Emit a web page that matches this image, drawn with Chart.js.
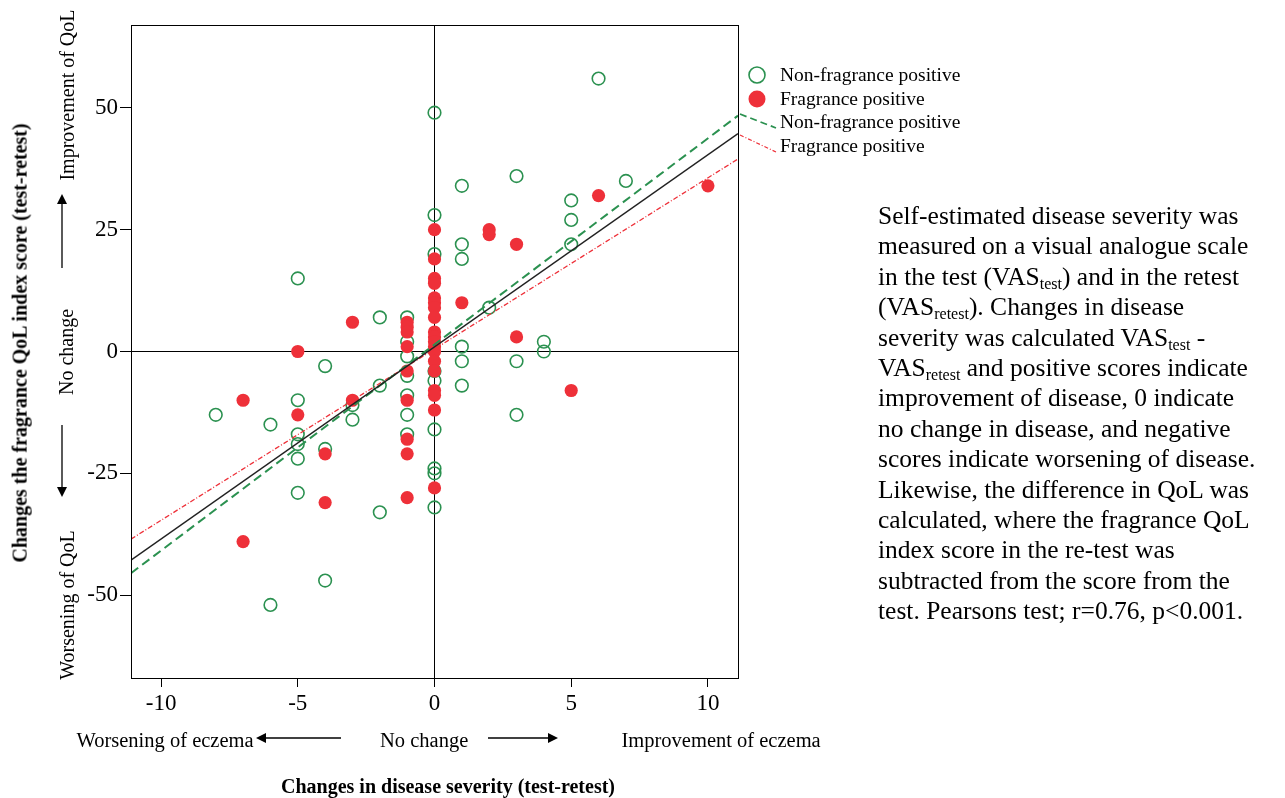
<!DOCTYPE html>
<html>
<head>
<meta charset="utf-8">
<script src="https://cdn.jsdelivr.net/npm/chart.js@4.4.1/dist/chart.umd.min.js"></script>
<style>
  html, body { margin: 0; padding: 0; background: #fff; }
  body { width: 1285px; height: 798px; position: relative; overflow: hidden;
         font-family: 'Liberation Serif', 'DejaVu Serif', serif; color: #000; }
  #chart { position: absolute; left: 0; top: 0; }
  .lbl { position: absolute; white-space: nowrap; line-height: 1; }
  .rot { transform-origin: center center; }
  .bold { font-weight: bold; }
  #note { position: absolute; left: 878px; top: 201px; font-size: 25.5px; line-height: 30.4px; white-space: nowrap; }
  #note sub { font-size: 16px; vertical-align: -4px; line-height: 0; }
</style>
</head>
<body>
<canvas id="chart" width="1000" height="798"></canvas>

<!-- y axis title and direction annotations -->
<div class="lbl rot bold" id="yTitle" style="font-size:20px;">Changes the fragrance QoL index score (test-retest)</div>
<div class="lbl rot" id="yUp" style="font-size:20px;">Improvement of QoL</div>
<div class="lbl rot" id="yMid" style="font-size:20px;">No change</div>
<div class="lbl rot" id="yDown" style="font-size:20px;">Worsening of QoL</div>

<!-- x axis annotations and title -->
<div class="lbl" id="xLeft" style="font-size:20.5px;">Worsening of eczema</div>
<div class="lbl" id="xMid" style="font-size:20.5px;">No change</div>
<div class="lbl" id="xRight" style="font-size:20.5px;">Improvement of eczema</div>
<div class="lbl bold" id="xTitle" style="font-size:20px;">Changes in disease severity (test-retest)</div>

<div id="note">Self-estimated disease severity was<br>measured on a visual analogue scale<br>in the test (VAS<sub>test</sub>) and in the retest<br>(VAS<sub>retest</sub>). Changes in disease<br>severity was calculated VAS<sub>test</sub> -<br>VAS<sub>retest</sub> and positive scores indicate<br>improvement of disease, 0 indicate<br>no change in disease, and negative<br>scores indicate worsening of disease.<br>Likewise, the difference in QoL was<br>calculated, where the fragrance QoL<br>index score in the re-test was<br>subtracted from the score from the<br>test. Pearsons test; r=0.76, p&lt;0.001.</div>

<script>
// Change in disease severity (x) and change in QoL index score (y), per patient group
const nonFragranceX = [-8, -6, -6, -5, -5, -5, -5, -5, -5, -4, -4, -4, -3, -3, -2, -2, -2,
  -1, -1, -1, -1, -1, -1, -1, 0, 0, 0, 0, 0, 0, 0, 0, 0,
  1, 1, 1, 1, 1, 1, 2, 3, 3, 3, 4, 4, 5, 5, 5, 6, 7];
const nonFragranceY = [-13, -15, -52, 15, -10, -17, -19, -22, -29, -3, -20, -47, -11, -14, 7, -7, -33,
  7, 2, -1, -5, -9, -13, -17, 49, 28, 20, -4, -6, -16, -24, -25, -32,
  34, 22, 19, 1, -2, -7, 9, 36, -2, -13, 2, 0, 31, 27, 22, 56, 35];

const fragranceX = [-7, -7, -5, -5, -4, -4, -3, -3,
  -1, -1, -1, -1, -1, -1, -1, -1, -1,
  0, 0, 0, 0, 0, 0, 0, 0, 0, 0, 0, 0, 0, 0, 0, 0, 0, 0, 0,
  1, 2, 2, 3, 3, 5, 6, 10];
const fragranceY = [-10, -39, 0, -13, -21, -31, 6, -10,
  6, 5, 4, 1, -4, -10, -18, -21, -30,
  25, 19, 15, 14, 11, 10, 9, 7, 4, 3, 2, 1, 0, -2, -4, -8, -9, -12, -28,
  10, 25, 24, 22, 3, -8, 32, 34];

// Fitted regression lines, given by their end points at the plot edges
const fitX = [-11.1, 11.1];
const fitAllY = [-42.8, 44.7];
const fitNonFragranceY = [-45.5, 48.4];
const fitFragranceY = [-38.5, 39.5];

// Axis ticks
const xTicks = [-10, -5, 0, 5, 10];
const yTicks = [-50, -25, 0, 25, 50];

// Legend entries
const legendLabels = ['Non-fragrance positive', 'Fragrance positive', 'Non-fragrance positive', 'Fragrance positive'];

const GREEN = '#2b9150';
const RED = '#ee3039';
const SERIF = "'Liberation Serif', 'DejaVu Serif', serif";

const pts = (xs, ys) => xs.map((x, i) => ({ x, y: ys[i] }));

// Frame around the plot, plus the legend to the right of it
const framePlugin = {
  id: 'frameAndLegend',
  afterDraw(chart) {
    const { ctx, chartArea: a } = chart;
    ctx.save();
    ctx.strokeStyle = '#000';
    ctx.lineWidth = 1;
    ctx.strokeRect(a.left + 0.5, a.top + 0.5, a.right - a.left, a.bottom - a.top);

    ctx.font = '19.5px ' + SERIF;
    ctx.textBaseline = 'middle';
    ctx.textAlign = 'left';
    const tx = 780;
    const rows = [75, 99, 122, 146];

    // symbol entries
    ctx.beginPath();
    ctx.arc(757, rows[0], 8, 0, Math.PI * 2);
    ctx.strokeStyle = GREEN; ctx.lineWidth = 1.6; ctx.stroke();
    ctx.beginPath();
    ctx.arc(757, rows[1], 8.5, 0, Math.PI * 2);
    ctx.fillStyle = RED; ctx.fill();

    // line entries, drawn as short leaders from the plot edge
    ctx.beginPath();
    ctx.setLineDash([7, 4]);
    ctx.strokeStyle = GREEN; ctx.lineWidth = 1.8;
    ctx.moveTo(a.right + 2, 114); ctx.lineTo(776, 128); ctx.stroke();
    ctx.beginPath();
    ctx.setLineDash([4, 2, 1, 2]);
    ctx.strokeStyle = RED; ctx.lineWidth = 1.2;
    ctx.moveTo(a.right + 2, 135); ctx.lineTo(776, 152); ctx.stroke();
    ctx.setLineDash([]);

    ctx.fillStyle = '#000';
    legendLabels.forEach((t, i) => ctx.fillText(t, tx, rows[i] + 1));
    ctx.restore();
  }
};

const zeroGrid = c => (c.tick && c.tick.value === 0) ? '#000' : 'rgba(0,0,0,0)';

new Chart(document.getElementById('chart'), {
  type: 'scatter',
  data: {
    datasets: [
      { label: 'Non-fragrance positive', data: pts(nonFragranceX, nonFragranceY),
        pointRadius: 6.3, pointBorderWidth: 1.6, borderColor: GREEN,
        backgroundColor: 'rgba(0,0,0,0)', pointBackgroundColor: 'rgba(0,0,0,0)', order: 3 },
      { label: 'Fragrance positive', data: pts(fragranceX, fragranceY),
        pointRadius: 6.6, pointBorderWidth: 0, borderColor: RED,
        backgroundColor: RED, pointBackgroundColor: RED, order: 2 },
      { type: 'line', label: 'Total', data: pts(fitX, fitAllY), showLine: true,
        borderColor: '#222', borderWidth: 1.4, pointRadius: 0, fill: false, order: 1 },
      { type: 'line', label: 'Non-fragrance positive fit', data: pts(fitX, fitNonFragranceY), showLine: true,
        borderColor: GREEN, borderWidth: 2, borderDash: [9, 5], pointRadius: 0, fill: false, order: 1 },
      { type: 'line', label: 'Fragrance positive fit', data: pts(fitX, fitFragranceY), showLine: true,
        borderColor: RED, borderWidth: 1.3, borderDash: [5, 2, 1, 2], pointRadius: 0, fill: false, order: 1 }
    ]
  },
  options: {
    responsive: false,
    animation: false,
    devicePixelRatio: 1,
    layout: { padding: { top: 25, right: 262, left: 0, bottom: 0 } },
    plugins: { legend: { display: false }, tooltip: { enabled: false } },
    scales: {
      x: {
        type: 'linear', position: 'bottom', min: -11.1, max: 11.1,
        afterBuildTicks: s => { s.ticks = xTicks.map(v => ({ value: v })); },
        afterFit: s => { s.height = 120; },
        ticks: { font: { family: SERIF, size: 23 }, color: '#000', padding: 3 },
        grid: { color: zeroGrid, lineWidth: 1, tickColor: '#000', tickLength: 9, drawOnChartArea: true },
        border: { display: true, color: '#000', width: 1 }
      },
      y: {
        type: 'linear', min: -67, max: 67,
        afterBuildTicks: s => { s.ticks = yTicks.map(v => ({ value: v })); },
        afterFit: s => { s.width = 131; },
        ticks: { font: { family: SERIF, size: 23 }, color: '#000', padding: 2 },
        grid: { color: zeroGrid, lineWidth: 1, tickColor: '#000', tickLength: 11, drawOnChartArea: true },
        border: { display: true, color: '#000', width: 1 }
      }
    }
  },
  plugins: [framePlugin]
});

// Place HTML labels by their centres
function place(id, cx, cy, rotate) {
  const el = document.getElementById(id);
  const w = el.offsetWidth, h = el.offsetHeight;
  el.style.left = (cx - w / 2) + 'px';
  el.style.top = (cy - h / 2) + 'px';
  if (rotate) el.style.transform = 'rotate(-90deg)';
}
place('yTitle', 19, 343, true);
place('yUp', 66, 95, true);
place('yMid', 66, 352, true);
place('yDown', 66, 605, true);
place('xLeft', 165, 740, false);
place('xMid', 424, 740, false);
place('xRight', 721, 740, false);
place('xTitle', 448, 786, false);

// Direction arrows beside the annotation labels
const arrows = document.createElementNS('http://www.w3.org/2000/svg', 'svg');
arrows.setAttribute('width', '1285'); arrows.setAttribute('height', '798');
arrows.style.position = 'absolute'; arrows.style.left = '0'; arrows.style.top = '0';
arrows.innerHTML =
  '<defs><marker id="ah" markerWidth="10" markerHeight="10" refX="8" refY="5" orient="auto" markerUnits="userSpaceOnUse">' +
  '<path d="M0,0 L10,5 L0,10 z" fill="#000"/></marker></defs>' +
  '<g stroke="#000" stroke-width="1.3">' +
  '<line x1="62" y1="268" x2="62" y2="196" marker-end="url(#ah)"/>' +
  '<line x1="62" y1="425" x2="62" y2="495" marker-end="url(#ah)"/>' +
  '<line x1="341" y1="738" x2="258" y2="738" marker-end="url(#ah)"/>' +
  '<line x1="488" y1="738" x2="556" y2="738" marker-end="url(#ah)"/>' +
  '</g>';
document.body.appendChild(arrows);
</script>
</body>
</html>
